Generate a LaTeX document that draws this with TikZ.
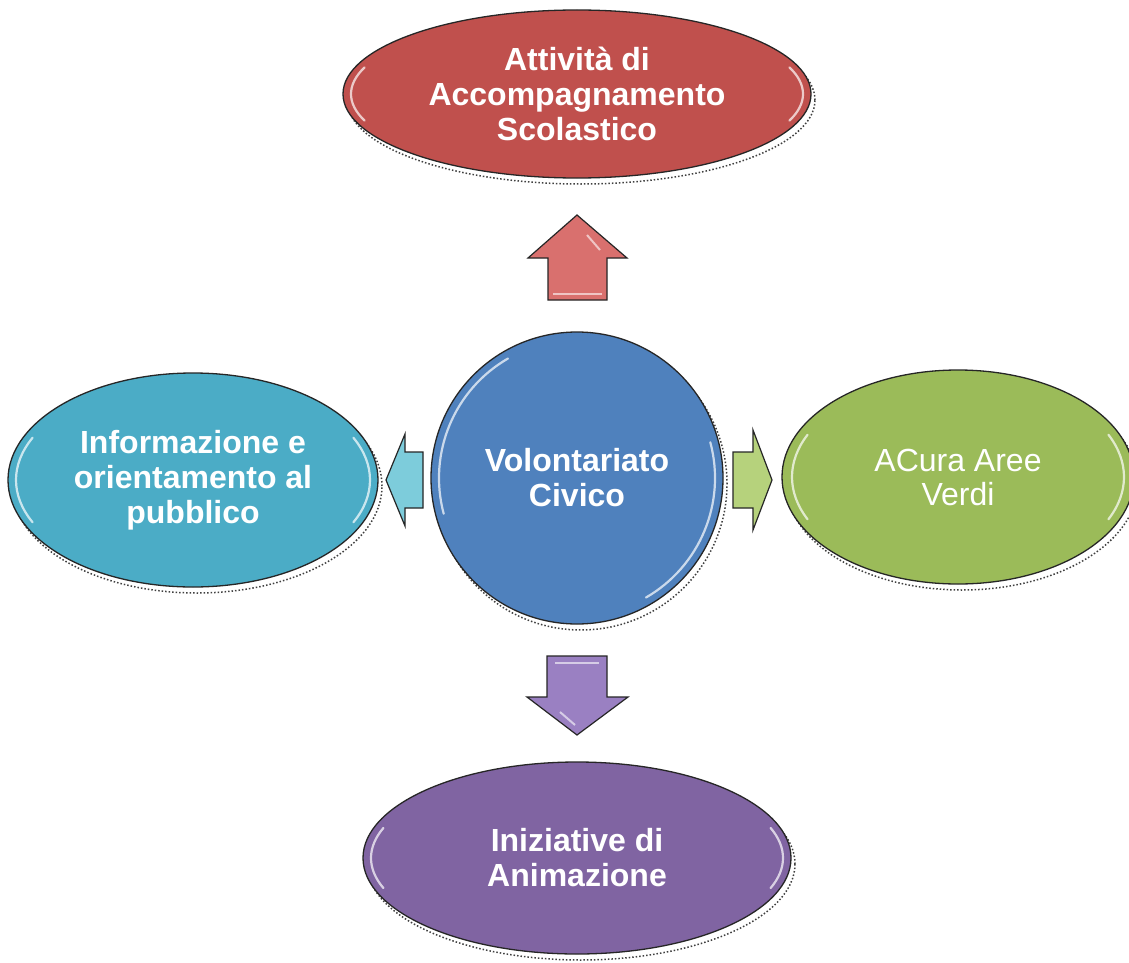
\documentclass[tikz,border=0pt]{standalone}
\usepackage{fontspec}
\setmainfont{Liberation Sans}
\usetikzlibrary{calc,shapes.geometric}
\definecolor{cred}{HTML}{C0504D}
\definecolor{cblue}{HTML}{4F81BD}
\definecolor{cgreen}{HTML}{9BBB59}
\definecolor{cpurple}{HTML}{8064A2}
\definecolor{ccyan}{HTML}{4BACC6}
\definecolor{ared}{HTML}{D9706E}
\definecolor{apurple}{HTML}{9A80C2}
\definecolor{acyan}{HTML}{7DCCDB}
\definecolor{agreen}{HTML}{B6D27C}
\tikzset{
  bubble/.style={ellipse, draw=black!85, line width=1.3pt, inner sep=0pt,
    text=white, align=center, font=\fontsize{32}{35}\selectfont\bfseries},
  bubbleshadow/.style={ellipse, draw=black!75, dotted, line width=1.5pt, inner sep=0pt},
  gloss/.style={white, line width=2.2pt, opacity=0.7, line cap=round},
  blockarrow/.style={draw=black!85, line width=1.2pt, line join=miter},
}
\begin{document}
\begin{tikzpicture}[x=1pt,y=-1pt]
\useasboundingbox[fill=white] (0,0) rectangle (1129,963);
\begin{scope}
\clip (0,0) rectangle (1129,963);
% dotted shadows
\node[bubbleshadow, minimum width=468, minimum height=168] (ts) at (581,100) {};
\node[bubbleshadow, minimum width=370, minimum height=214] (ls) at (197,486) {};
\node[bubbleshadow, minimum width=352, minimum height=214] (rs) at (962,483) {};
\node[bubbleshadow, minimum width=428, minimum height=192] (bs) at (581,864) {};
\node[bubbleshadow, minimum width=292, minimum height=292] (cs) at (581,484) {};
% main bubbles
\node[bubble, fill=cred, minimum width=468, minimum height=168] (top) at (577,94)
  {Attività di\\Accompagnamento\\Scolastico};
\node[bubble, fill=ccyan, minimum width=370, minimum height=214] (left) at (193,480)
  {Informazione e\\orientamento al\\pubblico};
\node[bubble, fill=cgreen, minimum width=352, minimum height=214,
  font=\fontsize{32}{34}\selectfont] (right) at (958,477) {ACura Aree\\Verdi};
\node[bubble, fill=cpurple, minimum width=428, minimum height=192] (bottom) at (577,858)
  {Iniziative di\\Animazione};
\node[bubble, fill=cblue, minimum width=292, minimum height=292] (center) at (577,478)
  {Volontariato\\Civico};
\end{scope}
% gloss highlights
\draw[gloss] (top.center) ++(160:226 and 78) arc[start angle=160, end angle=200, x radius=226, y radius=78];
\draw[gloss] (top.center) ++(-20:226 and 78) arc[start angle=-20, end angle=20, x radius=226, y radius=78];
\draw[gloss] (left.center) ++(155:177 and 100) arc[start angle=155, end angle=205, x radius=177, y radius=100];
\draw[gloss] (left.center) ++(-25:177 and 100) arc[start angle=-25, end angle=25, x radius=177, y radius=100];
\draw[gloss] (right.center) ++(155:166 and 100) arc[start angle=155, end angle=205, x radius=166, y radius=100];
\draw[gloss] (right.center) ++(-25:166 and 100) arc[start angle=-25, end angle=25, x radius=166, y radius=100];
\draw[gloss] (bottom.center) ++(160:206 and 88) arc[start angle=160, end angle=200, x radius=206, y radius=88];
\draw[gloss] (bottom.center) ++(-20:206 and 88) arc[start angle=-20, end angle=20, x radius=206, y radius=88];
\draw[gloss] (center.center) ++(165:138) arc[start angle=165, end angle=240, radius=138];
\draw[gloss] (center.center) ++(-15:138) arc[start angle=-15, end angle=60, radius=138];
% block arrows
\draw[blockarrow, fill=ared] (577,215) -- (627,258) -- (607,258) -- (607,300) -- (548,300) -- (548,258) -- (528,258) -- cycle;
\draw[blockarrow, fill=apurple] (577,735) -- (628,697) -- (607,697) -- (607,656) -- (547,656) -- (547,697) -- (527,697) -- cycle;
\draw[blockarrow, fill=acyan] (386,480) -- (405,434) -- (405,452) -- (423,452) -- (423,508) -- (405,508) -- (405,526) -- cycle;
\draw[blockarrow, fill=agreen] (772,480) -- (753,430) -- (753,452) -- (733,452) -- (733,508) -- (753,508) -- (753,530) -- cycle;
% arrow gloss
\draw[white, opacity=0.6, line width=2pt] (553,294) -- (602,294);
\draw[white, opacity=0.6, line width=2pt] (587,235) -- (600,250);
\draw[white, opacity=0.6, line width=2pt] (555,663) -- (599,663);
\draw[white, opacity=0.6, line width=2pt] (560,712) -- (575,725);
\end{tikzpicture}
\end{document}
